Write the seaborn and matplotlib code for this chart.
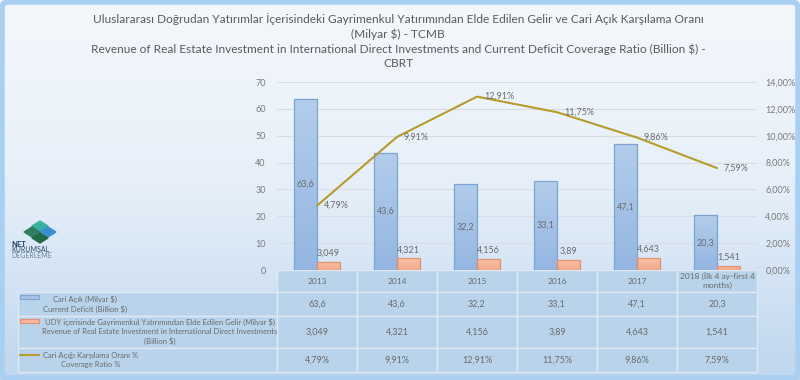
import numpy as np
import pandas as pd
import matplotlib
matplotlib.use('Agg')
import matplotlib.pyplot as plt
import seaborn as sns
from matplotlib.colors import LinearSegmentedColormap
from matplotlib.patches import Rectangle, Polygon, FancyBboxPatch
from matplotlib.ticker import FuncFormatter, MultipleLocator

# === Data ===
years = ['2013', '2014', '2015', '2016', '2017', '2018 (İlk 4 ay-first 4\nmonths)']
deficit = [63.6, 43.6, 32.2, 33.1, 47.1, 20.3]
revenue = [3.049, 4.321, 4.156, 3.89, 4.643, 1.541]
ratio = [4.79, 9.91, 12.91, 11.75, 9.86, 7.59]

s_deficit = 'Cari Açık (Milyar $)\nCurrent Deficit (Billion $)'
s_revenue = ('UDY içerisinde Gayrimenkul Yatırımından Elde Edilen Gelir (Milyar $)\n'
             'Revenue of Real Estate Investment in International Direct Investments\n(Billion $)')
s_ratio = 'Cari Açığı Karşılama Oranı %\nCoverage Ratio %'

title = ('Uluslararası Doğrudan Yatırımlar İçerisindeki Gayrimenkul Yatırımından Elde Edilen Gelir ve Cari Açık Karşılama Oranı\n'
         '(Milyar $) - TCMB\n'
         'Revenue of Real Estate Investment in International Direct Investments and Current Deficit Coverage Ratio (Billion $) -\n'
         'CBRT')

BLUE = '#a6c2e5'
BLUE_EDGE = '#7ba3d3'
ORANGE = '#f7b79d'
ORANGE_EDGE = '#e5906e'
GOLD = '#b79b2c'
TXT = '#6b6b6b'


def comma(v):
    return str(v).replace('.', ',')


def pct(v):
    return f'{v:.2f}%'.replace('.', ',')


sns.set_theme(style='white')
plt.rcParams['font.family'] = ['Lato', 'DejaVu Sans']

fig = plt.figure(figsize=(8, 3.8), dpi=100)

# === Background (pixel coordinates) ===
bg = fig.add_axes([0, 0, 1, 1], zorder=0)
bg.set_xlim(0, 800)
bg.set_ylim(380, 0)
bg.axis('off')
cmap = LinearSegmentedColormap.from_list('bg', ['#f4f8fc', '#e6eff9', '#bed6ee'])
grad = np.linspace(0, 1, 256).reshape(-1, 1)
bg.imshow(grad, cmap=cmap, extent=[0, 800, 380, 0], aspect='auto')
bg.add_patch(FancyBboxPatch((2, 2), 796, 376, boxstyle='round,pad=0,rounding_size=6',
                            fill=False, edgecolor='#a9cff3', lw=4))

bg.text(398, 41, title, ha='center', va='center', fontsize=8.55, color='#5a5a5a',
        linespacing=1.36)

# logo
cx, cy = 40, 231
bg.add_patch(Polygon([[cx, cy - 10], [cx + 8, cy - 5], [cx, cy], [cx - 8, cy - 5]], color='#3bb0a2'))
bg.add_patch(Polygon([[cx - 8, cy - 4], [cx, cy + 1], [cx - 8, cy + 6], [cx - 16, cy + 1]], color='#2f8060'))
bg.add_patch(Polygon([[cx + 8, cy - 4], [cx + 16, cy + 1], [cx + 8, cy + 6], [cx, cy + 1]], color='#3a8fd0'))
bg.add_patch(Polygon([[cx, cy + 2], [cx + 8, cy + 7], [cx, cy + 12], [cx - 8, cy + 7]], color='#1f6b47'))
bg.text(11, 248, 'NET', fontsize=5.5, fontweight='bold', color='#1f3a5a', va='bottom')
bg.text(11, 253.5, 'KURUMSAL', fontsize=5, color='#2c4a6e', va='bottom')
bg.text(11, 259, 'DEGERLEME', fontsize=5, color='#6f87a3', va='bottom')

# === Table ===
col_x = [18, 277, 357, 437, 517, 597, 677, 757]
row_y = [270, 292, 316, 348, 372]
CELL = '#b9d3eb'
LINE = '#dde9f5'
for r in range(4):
    for c in range(len(col_x) - 1):
        if r == 0 and c == 0:
            continue
        bg.add_patch(Rectangle((col_x[c], row_y[r]), col_x[c + 1] - col_x[c],
                               row_y[r + 1] - row_y[r], facecolor=CELL, edgecolor=LINE, lw=1))

rows = [[comma(v) for v in deficit], [comma(v) for v in revenue], [pct(v) for v in ratio]]
for c, yr in enumerate(years):
    xc = (col_x[c + 1] + col_x[c + 2]) / 2
    bg.text(xc, (row_y[0] + row_y[1]) / 2, yr, ha='center', va='center', fontsize=6,
            color=TXT, linespacing=1.25)
    for r in range(3):
        bg.text(xc, (row_y[r + 1] + row_y[r + 2]) / 2, rows[r][c], ha='center', va='center',
                fontsize=6.5, color=TXT)

label_x = [85, 160, 91]
for r, lab in enumerate([s_deficit, s_revenue, s_ratio]):
    bg.text(label_x[r], (row_y[r + 1] + row_y[r + 2]) / 2, lab, ha='center', va='center',
            fontsize=5.5, color=TXT, linespacing=1.35)
bg.add_patch(Rectangle((20, 295), 19, 4, facecolor=BLUE, edgecolor=BLUE_EDGE, lw=0.8))
bg.add_patch(Rectangle((20, 319), 19, 4, facecolor=ORANGE, edgecolor=ORANGE_EDGE, lw=0.8))
bg.plot([20, 39], [355, 355], color=GOLD, lw=1.5)

# === Main chart ===
ax = fig.add_axes([277 / 800, 110 / 380, 480 / 800, 188 / 380], zorder=2)
ax.set_facecolor('none')

df = pd.DataFrame({
    'year': years * 2,
    'series': ['deficit'] * len(years) + ['revenue'] * len(years),
    'value': deficit + revenue,
})
sns.barplot(data=df, x='year', y='value', hue='series', hue_order=['deficit', 'revenue'],
            palette=[BLUE, ORANGE], width=0.58, gap=0, ax=ax, legend=False, zorder=3)

# gradient fill inside each bar
bar_grads = {
    0: LinearSegmentedColormap.from_list('b', ['#94b6e1', '#b3cdeb']),
    1: LinearSegmentedColormap.from_list('o', ['#f4a98b', '#f9c2ab']),
}
edge_cols = {0: BLUE_EDGE, 1: ORANGE_EDGE}
vgrad = np.linspace(0, 1, 100).reshape(-1, 1)
for i, cont in enumerate(ax.containers):
    for p in cont:
        x0, w, h = p.get_x(), p.get_width(), p.get_height()
        im = ax.imshow(vgrad, cmap=bar_grads[i], origin='lower', aspect='auto',
                       extent=[x0, x0 + w, 0, h], zorder=3)
        im.set_clip_path(p)
        p.set_facecolor('none')
        p.set_edgecolor(edge_cols[i])
        p.set_linewidth(0.9)
        p.set_zorder(4)

ax.bar_label(ax.containers[0], labels=[comma(v) for v in deficit], label_type='center',
             fontsize=6.5, color=TXT, zorder=5)
ax.bar_label(ax.containers[1], labels=[comma(v) for v in revenue], padding=3,
             fontsize=6.5, color=TXT, zorder=5)

ax.set_xlim(-0.5, len(years) - 0.5)
ax.set_ylim(0, 70)
ax.yaxis.set_major_locator(MultipleLocator(10))
ax.grid(axis='y', color='#d9dde3', lw=0.8, zorder=0)
ax.set_axisbelow(True)
ax.set_xlabel('')
ax.set_ylabel('')
ax.set_xticks([])
ax.tick_params(axis='y', length=0, pad=8, labelsize=6.5, labelcolor='#7a7a7a')
for s in ax.spines.values():
    s.set_visible(False)

ax2 = ax.twinx()
pos = np.arange(len(years))
sns.lineplot(x=pos, y=ratio, ax=ax2, color=GOLD, lw=1.5)
for x, v in zip(pos, ratio):
    ax2.annotate(pct(v), (x, v), xytext=(5, 0), textcoords='offset points',
                 ha='left', va='center', fontsize=6.5, color=TXT)
ax2.set_ylim(0, 14)
ax2.yaxis.set_major_locator(MultipleLocator(2))
ax2.yaxis.set_major_formatter(FuncFormatter(lambda v, _: pct(v)))
ax2.tick_params(axis='y', length=0, pad=6, labelsize=6.5, labelcolor='#7a7a7a')
ax2.set_xlim(-0.5, len(years) - 0.5)
for s in ax2.spines.values():
    s.set_visible(False)

fig.savefig('out.png', dpi=100)
